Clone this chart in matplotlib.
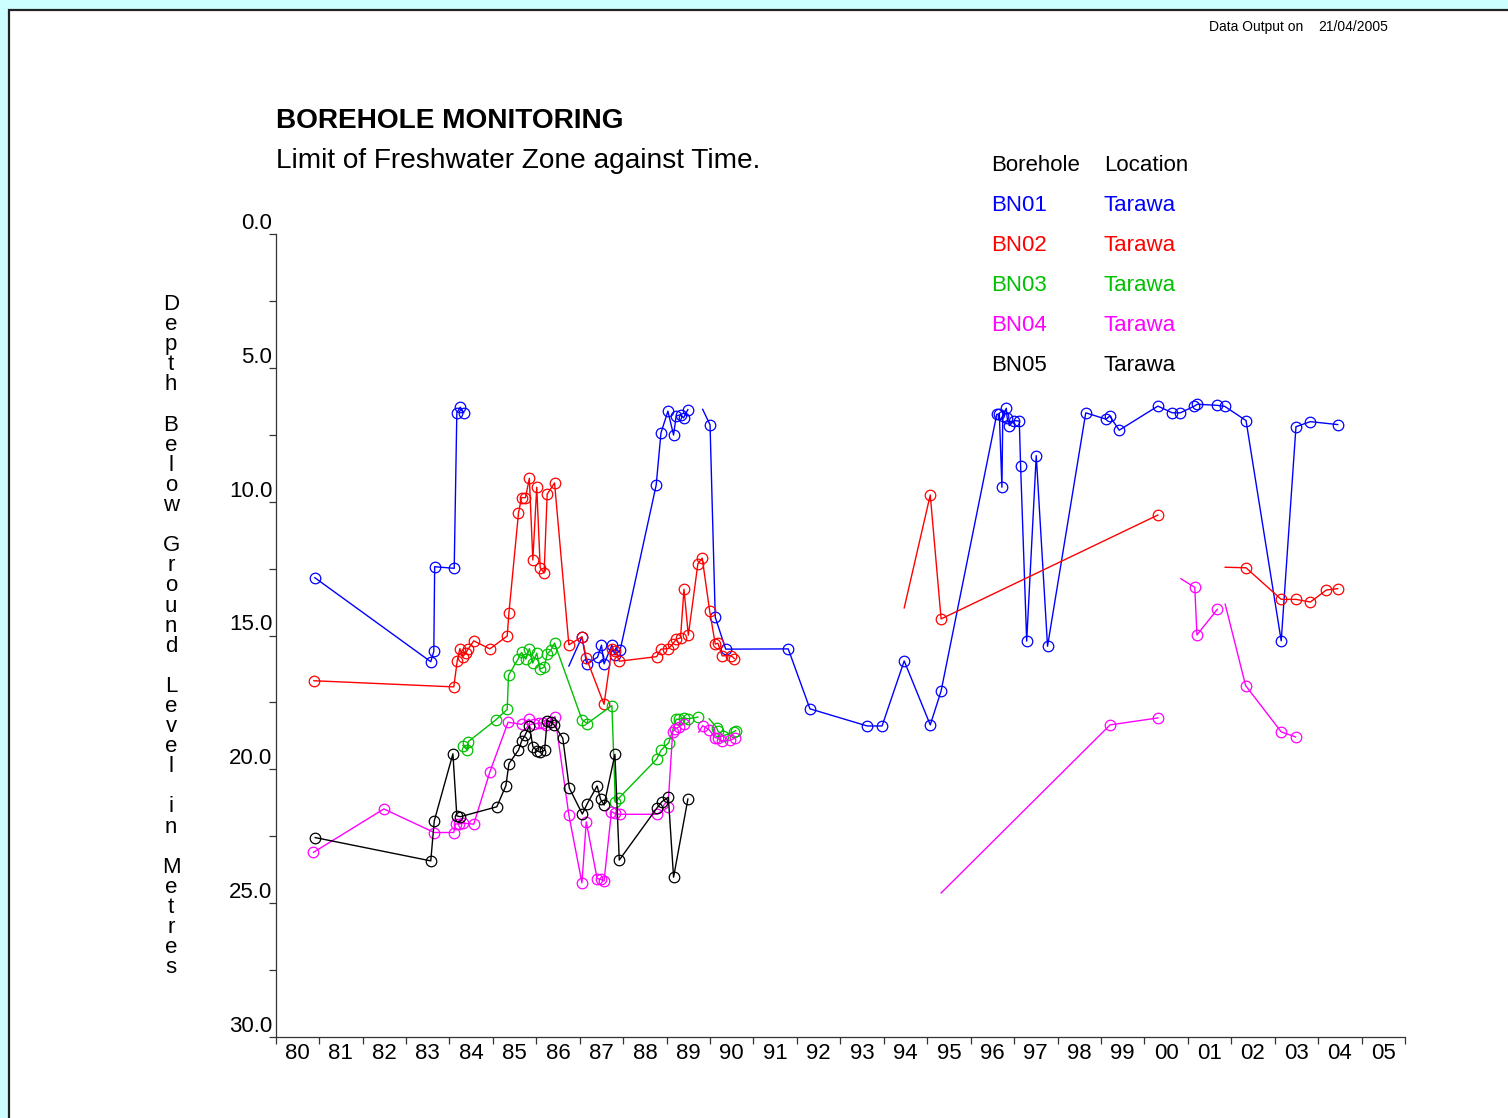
import numpy as np
import matplotlib.pyplot as plt
from matplotlib.patches import Rectangle

plt.rcParams['font.family'] = ['Liberation Sans', 'DejaVu Sans']

nan = np.nan

# depth below ground level (m) against decimal year; nan = gap in the record
bn01_year = [1980.90, 1983.57, 1983.64, 1983.66, 1984.11, 1984.17, 1984.25, 1984.33, nan,
             1986.75, 1987.05, 1987.16, 1987.41, 1987.50, 1987.56, 1987.74, 1987.81, 1987.93,
             1988.76, 1988.87, 1989.03, 1989.16, 1989.22, 1989.32, 1989.39, 1989.49, nan,
             1989.83, 1990.00, 1990.12, 1990.36, 1991.80, 1992.30, 1993.62, 1993.96, 1994.47,
             1995.07, 1995.32, 1996.60, 1996.66, 1996.72, 1996.74, 1996.82, 1996.84, 1996.89,
             1997.00, 1997.12, 1997.15, 1997.29, 1997.51, 1997.77, 1998.65, 1999.12, 1999.20,
             1999.42, 2000.31, 2000.64, 2000.83, 2001.15, 2001.22, 2001.67, 2001.85, 2002.34,
             2003.15, 2003.49, 2003.82, 2004.45]
bn01_depth = [12.84, 15.98, 15.59, 12.43, 12.49, 6.68, 6.47, 6.68, nan,
              16.14, 15.05, 16.06, 15.81, 15.36, 16.06, 15.36, 15.73, 15.55,
              9.38, 7.43, 6.62, 7.51, 6.80, 6.75, 6.87, 6.56, nan,
              6.55, 7.13, 14.32, 15.51, 15.50, 17.74, 18.38, 18.38, 15.95,
              18.34, 17.07, 6.74, 6.72, 9.46, 6.79, 6.51, 6.86, 7.16,
              6.97, 6.99, 8.66, 15.21, 8.28, 15.40, 6.68, 6.92, 6.80,
              7.33, 6.43, 6.68, 6.68, 6.43, 6.36, 6.40, 6.44, 6.97,
              15.20, 7.20, 7.01, 7.12]
bn01_nomark = [1986.75, 1989.83]

bn02_year = [1980.88, 1984.10, 1984.18, 1984.24, 1984.31, 1984.37, 1984.43, 1984.56, 1984.93,
             1985.33, 1985.37, 1985.59, 1985.66, 1985.75, 1985.84, 1985.92, 1986.01, 1986.09,
             1986.18, 1986.25, 1986.42, 1986.75, 1987.05, 1987.15, 1987.56, 1987.74, 1987.82,
             1987.91, 1988.77, 1988.87, 1989.04, 1989.14, 1989.22, 1989.32, 1989.40, 1989.50,
             1989.72, 1989.82, 1989.99, 1990.12, 1990.18, 1990.28, 1990.48, 1990.56, nan,
             1994.47, 1995.07, 1995.32, 2000.31, nan,
             2001.86, 2002.34, 2003.15, 2003.49, 2003.82, 2004.19, 2004.45]
bn02_depth = [16.69, 16.92, 15.94, 15.49, 15.79, 15.66, 15.51, 15.20, 15.50,
              15.02, 14.15, 10.42, 9.85, 9.85, 9.13, 12.18, 9.46, 12.47,
              12.66, 9.72, 9.30, 15.35, 15.05, 15.84, 17.57, 15.49, 15.57,
              15.96, 15.79, 15.51, 15.49, 15.32, 15.14, 15.09, 13.27, 14.99,
              12.32, 12.11, 14.07, 15.32, 15.29, 15.76, 15.75, 15.86, nan,
              13.97, 9.75, 14.38, 10.50, nan,
              12.45, 12.47, 13.65, 13.65, 13.75, 13.30, 13.25]
bn02_nomark = [1994.47, 2001.86]

bn03_year = [1984.31, 1984.41, 1984.43, 1985.07, 1985.33, 1985.36, 1985.58, 1985.66, 1985.76,
             1985.84, 1985.92, 1986.01, 1986.09, 1986.18, 1986.25, 1986.34, 1986.42, 1987.05,
             1987.17, 1987.74, 1987.82, 1987.91, 1988.77, 1988.87, 1989.05, 1989.22, 1989.29,
             1989.39, 1989.50, 1989.72, nan,
             1989.98, 1990.15, 1990.18, 1990.30, 1990.54, 1990.59]
bn03_depth = [19.11, 19.28, 18.97, 18.15, 17.76, 16.49, 15.88, 15.63, 15.88,
              15.49, 16.03, 15.66, 16.25, 16.19, 15.69, 15.54, 15.28, 18.14,
              18.29, 17.62, 21.23, 21.06, 19.62, 19.29, 19.00, 18.13, 18.13,
              18.07, 18.11, 18.05, nan,
              18.11, 18.44, 18.57, 18.75, 18.60, 18.55]
bn03_nomark = [1989.98]

bn04_year = [1980.87, 1982.49, 1983.65, 1984.10, 1984.14, 1984.22, 1984.31, 1984.56, 1984.93,
             1985.35, 1985.66, 1985.83, 1985.95, 1986.06, 1986.15, 1986.23, 1986.43, 1986.75,
             1987.05, 1987.15, 1987.40, 1987.48, 1987.56, 1987.73, 1987.81, 1987.92, 1988.77,
             1989.03, 1989.14, 1989.20, 1989.28, 1989.40, nan,
             1989.74, 1989.83, 1989.98, 1990.12, 1990.18, 1990.28, 1990.47, 1990.58, nan,
             1995.32, 1999.21, 2000.31, nan,
             2000.84, 2001.16, 2001.21, 2001.68, nan,
             2001.86, 2002.33, 2003.15, 2003.48]
bn04_depth = [23.10, 21.48, 22.36, 22.36, 22.04, 22.04, 22.01, 22.05, 20.10,
              18.24, 18.32, 18.13, 18.32, 18.26, 18.28, 18.33, 18.03, 21.71,
              24.24, 21.96, 24.08, 24.11, 24.17, 21.58, 21.65, 21.68, 21.68,
              21.42, 18.59, 18.50, 18.41, 18.30, nan,
              18.61, 18.37, 18.52, 18.82, 18.83, 18.94, 18.91, 18.83, nan,
              24.62, 18.34, 18.08, nan,
              12.88, 13.20, 14.98, 14.02, nan,
              13.83, 16.87, 18.60, 18.79]
bn04_nomark = [1989.74, 1995.32, 2000.84, 2001.86]

bn05_year = [1980.91, 1983.57, 1983.65, 1984.08, 1984.17, 1984.25, 1985.09, 1985.30, 1985.37,
             1985.59, 1985.66, 1985.74, 1985.84, 1985.92, 1986.02, 1986.09, 1986.19, 1986.25,
             1986.34, 1986.41, 1986.61, 1986.76, 1987.06, 1987.17, 1987.40, 1987.48, 1987.56,
             1987.81, 1987.91, 1988.78, 1988.89, 1989.04, 1989.16, 1989.49]
bn05_depth = [22.55, 23.42, 21.93, 19.42, 21.74, 21.77, 21.40, 20.61, 19.79,
              19.28, 18.95, 18.73, 18.37, 19.15, 19.31, 19.36, 19.29, 18.18,
              18.24, 18.34, 18.84, 20.70, 21.67, 21.29, 20.62, 21.12, 21.33,
              19.44, 23.39, 21.44, 21.21, 21.04, 24.03, 21.11]
bn05_nomark = []

boreholes = ['BN01', 'BN02', 'BN03', 'BN04', 'BN05']
locations = ['Tarawa', 'Tarawa', 'Tarawa', 'Tarawa', 'Tarawa']
colors = ['#0000FF', '#FF0000', '#00C000', '#FF00FF', '#000000']
series = [(bn01_year, bn01_depth, bn01_nomark), (bn02_year, bn02_depth, bn02_nomark),
          (bn03_year, bn03_depth, bn03_nomark), (bn04_year, bn04_depth, bn04_nomark),
          (bn05_year, bn05_depth, bn05_nomark)]

year_labels = ['80', '81', '82', '83', '84', '85', '86', '87', '88', '89', '90', '91', '92',
               '93', '94', '95', '96', '97', '98', '99', '00', '01', '02', '03', '04', '05']
depth_ticks = [0, 5, 10, 15, 20, 25, 30]
ylabel = 'Depth Below Ground Level in Metres'

W, H = 1508, 1118
fig = plt.figure(figsize=(W / 100, H / 100), dpi=100, facecolor='#CCFFFF')


def fx(x):
    return x / W


def fy(y):
    return 1 - y / H


# white page with dark border, kept behind the axes
fig.patches.append(Rectangle((fx(9), -0.05), 1.2, fy(10) + 0.05, transform=fig.transFigure,
                             facecolor='white', edgecolor='#222222', linewidth=1.6, zorder=-5))

ax = fig.add_axes([fx(275.7), fy(1037), fx(1405) - fx(275.7), fy(234) - fy(1037)])
ax.set_zorder(2)
ax.patch.set_visible(False)
ax.set_xlim(1980, 2006)
ax.set_ylim(30, 0)
for s in ['top', 'right']:
    ax.spines[s].set_visible(False)
for s in ['left', 'bottom']:
    ax.spines[s].set_linewidth(0.9)
    ax.spines[s].set_color('#333333')

# x axis: ticks at year boundaries, labels centred in each year
ax.set_xticks(np.arange(1980, 2007))
ax.set_xticklabels([])
ax.set_xticks(np.arange(1980, 2006) + 0.5, minor=True)
ax.set_xticklabels(year_labels, minor=True, fontsize=16)
ax.tick_params(axis='x', which='major', direction='out', length=5, width=0.9, color='#333333')
ax.tick_params(axis='x', which='minor', length=0, pad=4.5)

# y axis: ticks every 2.5 m, labels sit just above their tick
ax.set_yticks(np.arange(0, 30.1, 2.5))
ax.set_yticklabels([])
ax.tick_params(axis='y', direction='out', length=5, width=0.9, color='#333333')
for v in depth_ticks:
    ax.text(-0.003, v, f'{v:.1f}', transform=ax.get_yaxis_transform(), ha='right',
            va='bottom', fontsize=16)

for (yr, dp, nomark), c in zip(series, colors):
    yr = np.array(yr)
    dp = np.array(dp)
    ax.plot(yr, dp, color=c, lw=1.0, clip_on=False)
    m = ~np.isnan(yr) & ~np.isin(yr, nomark)
    ax.plot(yr[m], dp[m], 'o', ms=7.6, mfc='none', mec=c, mew=0.9, clip_on=False)

# vertical, letter-stacked axis title
for i, ch in enumerate(ylabel):
    fig.text(fx(171), fy(310 + i * 20.1), ch, ha='center', va='baseline', fontsize=16)

fig.text(fx(276), fy(128), 'BOREHOLE MONITORING', fontsize=20.2, fontweight='bold',
         va='baseline')
fig.text(fx(276), fy(168), 'Limit of Freshwater Zone against Time.', fontsize=20.2,
         va='baseline')
fig.text(fx(1209), fy(31), 'Data Output on', fontsize=10, va='baseline')
fig.text(fx(1318), fy(31), '21/04/2005', fontsize=10, va='baseline')

# legend table
fig.text(fx(991), fy(171), 'Borehole', fontsize=16, va='baseline')
fig.text(fx(1104), fy(171), 'Location', fontsize=16, va='baseline')
for i, (b, loc, c) in enumerate(zip(boreholes, locations, colors)):
    fig.text(fx(991), fy(211 + i * 40), b, fontsize=16, va='baseline', color=c)
    fig.text(fx(1104), fy(211 + i * 40), loc, fontsize=16, va='baseline', color=c)

fig.savefig('out.png', dpi=100, facecolor=fig.get_facecolor())
